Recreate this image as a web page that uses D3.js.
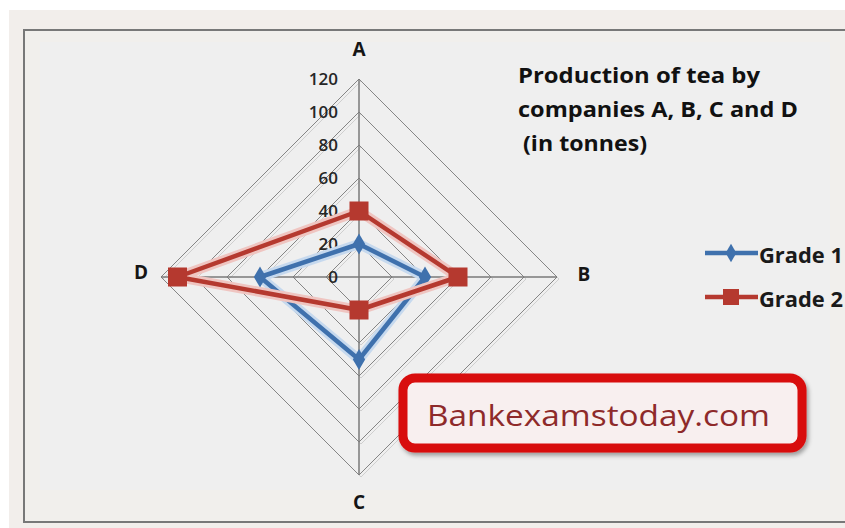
<!DOCTYPE html>
<html>
<head>
<meta charset="utf-8">
<script src="https://cdn.jsdelivr.net/npm/d3@7"></script>
<style>
  html, body { margin: 0; padding: 0; background: #ffffff; }
  svg { display: block; }
</style>
</head>
<body>
<svg id="chart" width="845" height="528"></svg>
<script>
// ---- data ----
const categories = ["A", "B", "C", "D"];
const grade1 = [20, 40, 50, 60];
const grade2 = [40, 60, 20, 110];
const seriesNames = ["Grade 1", "Grade 2"];
const tickValues = [0, 20, 40, 60, 80, 100, 120];
const titleLines = ["Production of tea by", "companies A, B, C and D", " (in tonnes)"];
const watermark = "Bankexamstoday.com";

// ---- layout ----
const W = 845, H = 528;
const cx = 359, cy = 277, R = 198;
const svg = d3.select("#chart");
const font = "'Open Sans', Lato, sans-serif";

const defs = svg.append("defs");
const f = defs.append("filter").attr("id", "shadow").attr("x", "-10%").attr("y", "-10%").attr("width", "130%").attr("height", "140%");
f.append("feDropShadow").attr("dx", 2).attr("dy", 3).attr("stdDeviation", 2).attr("flood-color", "#000").attr("flood-opacity", 0.35);

// backgrounds
svg.append("rect").attr("x", 9).attr("y", 10).attr("width", W - 9).attr("height", H - 10).attr("fill", "#f2eeeb");
svg.append("rect").attr("x", 24).attr("y", 30).attr("width", 830).attr("height", 492)
  .attr("fill", "#f1efec").attr("stroke", "#787878").attr("stroke-width", 2);
svg.append("rect").attr("x", 40).attr("y", 42).attr("width", 790).attr("height", 448).attr("fill", "#efefef");

const r = d3.scaleLinear().domain([0, 120]).range([0, R]);
const angle = d3.scalePoint().domain(categories).range([0, 2 * Math.PI * 3 / 4]);
const pt = (cat, v) => {
  const a = angle(cat) - Math.PI / 2;
  return [cx + r(v) * Math.cos(a), cy + r(v) * Math.sin(a)];
};

// grid rings (diamonds)
const gridG = svg.append("g");
const ringLine = d3.line();
tickValues.filter(t => t > 0).forEach(t => {
  const pts = categories.map(c => pt(c, t));
  gridG.append("path").attr("d", ringLine(pts) + "Z")
    .attr("fill", "none").attr("stroke", "#cfcfcf").attr("stroke-width", 1)
    .attr("transform", "translate(2,2)");
  gridG.append("path").attr("d", ringLine(pts) + "Z")
    .attr("fill", "none").attr("stroke", "#858585").attr("stroke-width", 1);
});
// spokes
categories.forEach(c => {
  const p = pt(c, 120);
  gridG.append("line").attr("x1", cx).attr("y1", cy).attr("x2", p[0]).attr("y2", p[1])
    .attr("stroke", "#7a7a7a").attr("stroke-width", 1.5);
});

// value axis labels
const yScale = d3.scaleLinear().domain([0, 120]).range([cy, cy - R]);
const axis = d3.axisLeft(yScale).tickValues(tickValues).tickSize(0).tickPadding(0);
const axG = svg.append("g").attr("transform", `translate(338,0)`).call(axis);
axG.select(".domain").remove();
axG.selectAll("text").attr("font-family", font).attr("font-weight", 600)
  .attr("font-size", 17).attr("fill", "#262626");

// category labels
const labelPos = { A: [0, -30], B: [27, -3], C: [0, 27], D: [-20, -5] };
categories.forEach(c => {
  const p = pt(c, 120);
  svg.append("text").attr("x", p[0] + labelPos[c][0]).attr("y", p[1] + labelPos[c][1])
    .attr("text-anchor", "middle").attr("dominant-baseline", "central")
    .attr("font-family", font).attr("font-weight", "bold").attr("font-size", 19)
    .attr("fill", "#151515").text(c);
});

// series
const colors = ["#3f71ad", "#b5392f"];
const halos = ["#c6d9ee", "#efc5c1"];
const data = [grade1, grade2];
const lineGen = d3.line();
data.forEach((vals, i) => {
  const pts = categories.map((c, j) => pt(c, vals[j]));
  const g = svg.append("g");
  g.append("path").attr("d", lineGen(pts) + "Z").attr("fill", "none")
    .attr("stroke", halos[i]).attr("stroke-width", 10).attr("stroke-linejoin", "round");
  g.append("path").attr("d", lineGen(pts) + "Z").attr("fill", "none")
    .attr("stroke", colors[i]).attr("stroke-width", 4.5).attr("stroke-linejoin", "round");
  pts.forEach(p => {
    if (i === 0) {
      g.append("path").attr("d", d3.symbol(d3.symbolDiamond, 130)())
        .attr("transform", `translate(${p[0]},${p[1]})`).attr("fill", colors[i]);
    } else {
      g.append("rect").attr("x", p[0] - 9.5).attr("y", p[1] - 9.5).attr("width", 19).attr("height", 19)
        .attr("fill", colors[i]);
    }
  });
});

// title
const titleWidths = [242, 280, 125];
const titleX = [518, 518, 517];
titleLines.forEach((l, i) => {
  svg.append("text").attr("x", titleX[i]).attr("y", 83 + i * 34)
    .attr("xml:space", "preserve")
    .attr("font-family", font).attr("font-weight", "bold").attr("font-size", 21)
    .attr("textLength", titleWidths[i] + (i === 2 ? 5 : 0)).attr("lengthAdjust", "spacingAndGlyphs")
    .attr("fill", "#111").text(l);
});

// legend
seriesNames.forEach((n, i) => {
  const y = 253 + i * 44;
  const g = svg.append("g");
  g.append("line").attr("x1", 705).attr("x2", 758).attr("y1", y).attr("y2", y)
    .attr("stroke", colors[i]).attr("stroke-width", 4.5);
  if (i === 0) {
    g.append("path").attr("d", d3.symbol(d3.symbolDiamond, 100)())
      .attr("transform", `translate(731,${y})`).attr("fill", colors[i]);
  } else {
    g.append("rect").attr("x", 723).attr("y", y - 8).attr("width", 16).attr("height", 16).attr("fill", colors[i]);
  }
  g.append("text").attr("x", 759).attr("y", y + 1).attr("dominant-baseline", "central")
    .attr("font-family", font).attr("font-weight", "bold").attr("font-size", 22)
    .attr("textLength", 84).attr("lengthAdjust", "spacingAndGlyphs")
    .attr("fill", "#1a1a1a").text(n);
});

// watermark box
svg.append("rect").attr("x", 403).attr("y", 378).attr("width", 399).attr("height", 70)
  .attr("rx", 12).attr("fill", "#f8efef").attr("stroke", "#d80c0c").attr("stroke-width", 9)
  .attr("filter", "url(#shadow)");
svg.append("text").attr("x", 427).attr("y", 414).attr("dominant-baseline", "central")
  .attr("font-family", font).attr("font-size", 29)
  .attr("textLength", 343).attr("lengthAdjust", "spacingAndGlyphs")
  .attr("fill", "#8e2a2a").text(watermark);
</script>
</body>
</html>
